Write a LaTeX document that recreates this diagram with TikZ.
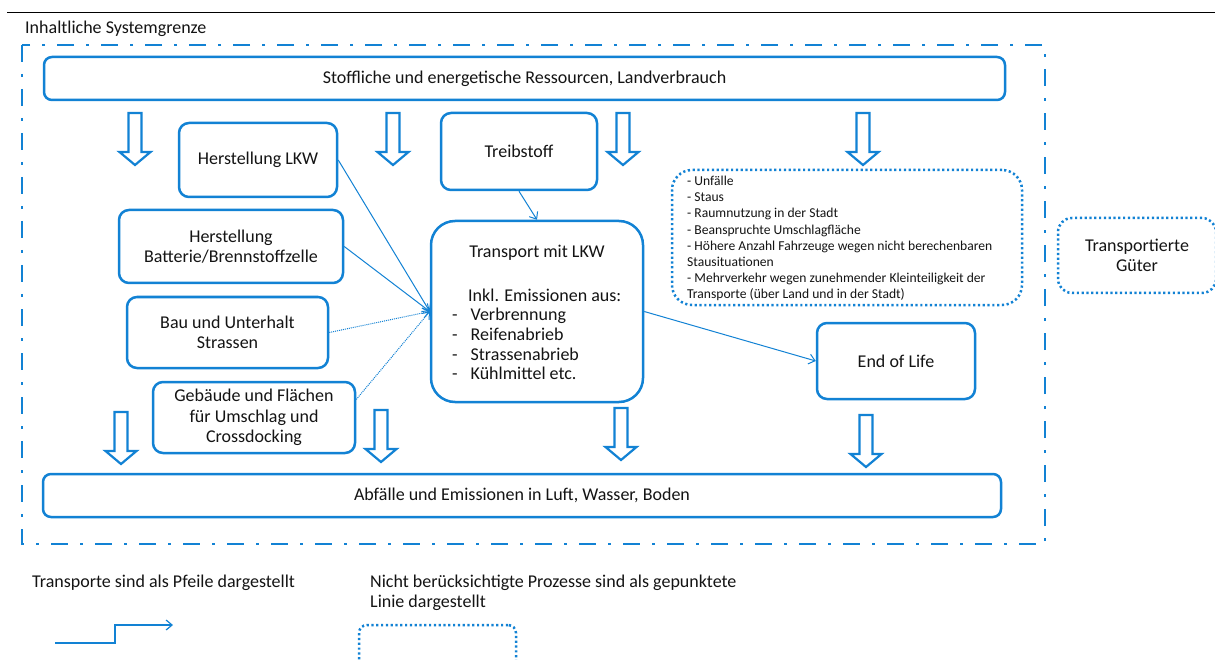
\documentclass[tikz,border=0pt]{standalone}
\usepackage{fontspec}
\setmainfont{Carlito}
\usetikzlibrary{arrows.meta,calc}
\definecolor{sysblue}{RGB}{18,130,212}
\definecolor{txtcol}{RGB}{20,20,20}
\begin{document}
\begin{tikzpicture}[x=1pt,y=-1pt,
  box/.style={draw=sysblue,line width=2.5pt,rounded corners=10pt,inner sep=0pt,align=center,text=txtcol,font=\fontsize{18}{20.5}\selectfont},
  dotbox/.style={draw=sysblue,line width=2.5pt,dash pattern=on 2.2pt off 2.6pt,rounded corners=14pt,inner sep=0pt,text=txtcol},
  txt/.style={inner sep=0pt,text=txtcol,font=\fontsize{18}{20.5}\selectfont},
  small/.style={inner sep=0pt,align=left,text=txtcol,font=\fontsize{13.6}{16.2}\selectfont},
  conn/.style={draw=sysblue,line width=1pt,-{Straight Barb[length=6pt,width=10pt]}},
  dconn/.style={conn,dash pattern=on 1pt off 1pt},
  frame/.style={draw=sysblue,line width=2.6pt,dash pattern=on 17pt off 12pt on 3pt off 12pt},
  barrow/.style={draw=sysblue,line width=2.2pt,line join=miter,fill=white},
  blockarrow/.pic={\path[barrow] (-6.5,0) -- (-6.5,39) -- (-15.5,39) -- (0,52) -- (15.5,39) -- (6.5,39) -- (6.5,0) -- cycle;}
]
\clip (0,0) rectangle (1215,660);
\fill[white] (0,0) rectangle (1215,660);

% top rule and title
\draw[line width=1pt] (7,13) -- (1215,13);
\node[txt,anchor=west] (title) at (25,29) {Inhaltliche Systemgrenze};

% system boundary
\draw[frame] (22,45) rectangle (1045,544);

% resources / waste bars
\node[box,minimum width=961pt,minimum height=43pt,rounded corners=8pt] (res) at (524.5,78.5) {Stoffliche und energetische Ressourcen, Landverbrauch};
\node[box,minimum width=958pt,minimum height=43pt,rounded corners=8pt] (abf) at (522,495.5) {Abfälle und Emissionen in Luft, Wasser, Boden};

% process boxes
\node[box,minimum width=158pt,minimum height=74pt] (hlkw) at (258,160) {Herstellung LKW};
\node[box,minimum width=224pt,minimum height=73pt] (hbat) at (231,246.5) {Herstellung\\Batterie/Brennstoffzelle};
\node[box,minimum width=201pt,minimum height=71pt] (bau) at (227.5,332.5) {Bau und Unterhalt\\Strassen};
\node[box,minimum width=202pt,minimum height=71pt] (geb) at (254,417.5) {Gebäude und Flächen\\für Umschlag und\\Crossdocking};
\node[box,minimum width=156pt,minimum height=77pt] (tb) at (519,151.5) {Treibstoff};
\node[box,minimum width=212pt,minimum height=181pt,rounded corners=24pt] (tr) at (537,311.5) {};
\node[txt] (trt) at (537,253) {Transport mit LKW};
\node[txt,anchor=west] (inkl) at (468,295) {Inkl. Emissionen aus:};
\node[txt,anchor=west,align=left,font=\fontsize{18}{19.7}\selectfont] (list) at (452,344) {\makebox[18.5pt][l]{-}Verbrennung\\\makebox[18.5pt][l]{-}Reifenabrieb\\\makebox[18.5pt][l]{-}Strassenabrieb\\\makebox[18.5pt][l]{-}Kühlmittel etc.};
\node[box,minimum width=158pt,minimum height=76pt] (eol) at (896,361) {End of Life};

% not considered
\node[dotbox,minimum width=350pt,minimum height=135pt,rounded corners=20pt] (nb) at (847,237.5) {};
\node[small,anchor=west] (nbt) at (687,238.5) {- Unfälle\\- Staus\\- Raumnutzung in der Stadt\\- Beanspruchte Umschlagfläche\\- Höhere Anzahl Fahrzeuge wegen nicht berechenbaren\\Stausituationen\\- Mehrverkehr wegen zunehmender Kleinteiligkeit der\\Transporte (über Land und in der Stadt)};
\node[dotbox,minimum width=158pt,minimum height=75pt,align=center,font=\fontsize{18}{20.5}\selectfont] (gut) at (1137,255.5) {Transportierte\\Güter};

% connectors
\draw[conn] (hlkw.east) -- (tr.west);
\draw[conn] (hbat.east) -- (tr.west);
\draw[dconn] (bau.east) -- (tr.west);
\draw[dconn] (geb.10) -- (tr.west);
\draw[conn] (tb.south) -- (tr.north);
\draw[conn] (tr.east) -- (eol.west);

% block arrows
\pic at (135,113) {blockarrow};
\pic at (393,113) {blockarrow};
\pic at (623,113) {blockarrow};
\pic at (863,113) {blockarrow};
\pic at (121,412) {blockarrow};
\pic at (381,410) {blockarrow};
\pic at (621,408) {blockarrow};
\pic at (866,415) {blockarrow};

% legend
\node[txt,anchor=west] (leg1) at (32,583) {Transporte sind als Pfeile dargestellt};
\node[txt,anchor=west,align=left] (leg2) at (370,593) {Nicht berücksichtigte Prozesse sind als gepunktete\\Linie dargestellt};
\coordinate (la) at (55,643);
\coordinate (lb) at (173,625);
\draw[conn,line width=1.2pt] (la) -- ++(60,0) |- (lb);
\node[dotbox,minimum width=157pt,minimum height=70pt,rounded corners=8pt] (legbox) at (437.5,660) {};
\end{tikzpicture}
\end{document}
